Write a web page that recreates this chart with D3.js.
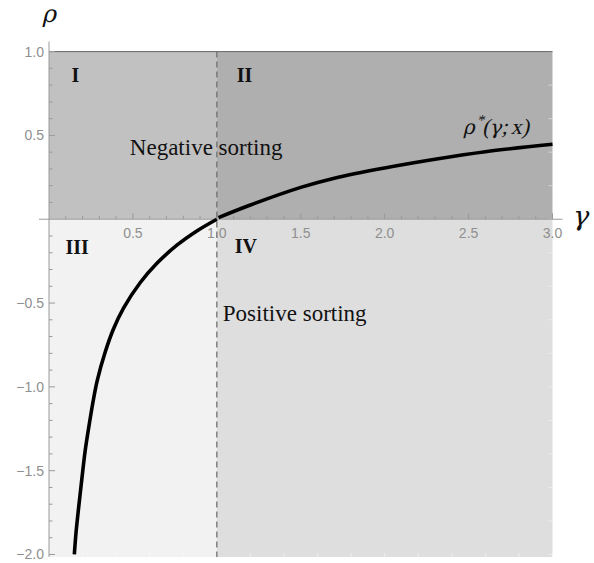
<!DOCTYPE html>
<html>
<head>
<meta charset="utf-8">
<script src="https://cdn.jsdelivr.net/npm/d3@7"></script>
<style>
  body { margin: 0; background: #fff; }
  svg { display: block; }
</style>
</head>
<body>
<script>
// values
const gammaTicks = [0.5, 1.0, 1.5, 2.0, 2.5, 3.0];
const rhoTicks = [1.0, 0.5, -0.5, -1.0, -1.5, -2.0];

const quadrantNames = ["I", "II", "III", "IV"];
const quadrantGamma = [[0, 1], [1, 3], [0, 1], [1, 3]];
const quadrantRho = [[0, 1], [0, 1], [-2.015, 0], [-2.015, 0]];

const sortingLabels = ["Negative sorting", "Positive sorting"];

// rho*(gamma; x), left branch (gamma < 1)
const lowerGamma = [0.151, 0.161, 0.175, 0.195, 0.215, 0.241, 0.264, 0.288, 0.334, 0.384, 0.444, 0.543, 0.643, 0.762, 0.881, 1.0];
const lowerRho = [-2.0, -1.87, -1.735, -1.556, -1.385, -1.216, -1.08, -0.96, -0.795, -0.655, -0.53, -0.379, -0.263, -0.155, -0.07, 0];

// right branch (gamma > 1)
const upperGamma = [1.01, 1.2, 1.5, 1.7, 2.0, 2.3, 2.6, 3.0];
const upperRho = [0.01, 0.085, 0.19, 0.245, 0.306, 0.358, 0.403, 0.447];

const width = 594, height = 563;

const svg = d3.select("body")
  .append("svg")
  .attr("width", width)
  .attr("height", height);

const x = d3.scaleLinear().domain([0, 3]).range([49, 552.5]);
const y = d3.scaleLinear().domain([-2.015, 1]).range([557, 51.6]);

const fills = {"I": "#c1c1c1", "II": "#afafaf", "III": "#f2f2f2", "IV": "#dedede"};

// shaded quadrants
svg.selectAll("rect.quad")
  .data(quadrantNames)
  .enter()
  .append("rect")
  .attr("class", "quad")
  .attr("x", (d, i) => x(quadrantGamma[i][0]))
  .attr("width", (d, i) => x(quadrantGamma[i][1]) - x(quadrantGamma[i][0]))
  .attr("y", (d, i) => y(quadrantRho[i][1]))
  .attr("height", (d, i) => y(quadrantRho[i][0]) - y(quadrantRho[i][1]))
  .attr("fill", d => fills[d]);

// faint frame ticks on right and bottom edges
const frameRho = d3.range(-2, 1.001, 0.2);
const frameGamma = d3.range(0.2, 3.001, 0.2);
svg.selectAll("line.fr")
  .data(frameRho)
  .enter()
  .append("line")
  .attr("x1", x(3)).attr("x2", x(3) - 4)
  .attr("y1", d => y(d)).attr("y2", d => y(d))
  .attr("stroke", "#fff").attr("stroke-opacity", 0.45);
svg.selectAll("line.fb")
  .data(frameGamma)
  .enter()
  .append("line")
  .attr("x1", d => x(d)).attr("x2", d => x(d))
  .attr("y1", y(-2.015)).attr("y2", y(-2.015) - 4)
  .attr("stroke", "#fff").attr("stroke-opacity", 0.45);

// top boundary
svg.append("line")
  .attr("x1", x(0)).attr("x2", x(3))
  .attr("y1", y(1)).attr("y2", y(1))
  .attr("stroke", "#666")
  .attr("stroke-width", 1);

const axisColor = "#9a9a9a";

// gamma axis at rho = 0
svg.append("line")
  .attr("x1", x(0) - 10).attr("x2", x(3) + 10)
  .attr("y1", y(0)).attr("y2", y(0))
  .attr("stroke", axisColor);

const gammaMinor = d3.range(0.1, 3.001, 0.1);
svg.selectAll("line.gt")
  .data(gammaMinor)
  .enter()
  .append("line")
  .attr("x1", d => x(d)).attr("x2", d => x(d))
  .attr("y1", y(0))
  .attr("y2", d => y(0) - (Math.abs(d * 2 - Math.round(d * 2)) < 1e-6 ? 6 : 3.5))
  .attr("stroke", axisColor);

// rho axis at gamma = 0
svg.append("line")
  .attr("x1", x(0)).attr("x2", x(0))
  .attr("y1", y(1) - 10).attr("y2", y(-2.015))
  .attr("stroke", axisColor);

const rhoMinor = d3.range(-2, 1.001, 0.1).filter(d => Math.abs(d) > 1e-6);
svg.selectAll("line.rt")
  .data(rhoMinor)
  .enter()
  .append("line")
  .attr("x1", x(0))
  .attr("x2", d => x(0) + (Math.abs(d * 2 - Math.round(d * 2)) < 1e-6 ? 6 : 3.5))
  .attr("y1", d => y(d)).attr("y2", d => y(d))
  .attr("stroke", axisColor);

const fmt = d3.format(".1f");
const tickFont = "'Liberation Sans', Arial, sans-serif";

svg.selectAll("text.gl")
  .data(gammaTicks)
  .enter()
  .append("text")
  .attr("x", d => x(d))
  .attr("y", y(0) + 19)
  .attr("text-anchor", "middle")
  .attr("font-family", tickFont)
  .attr("font-size", 14)
  .attr("fill", "#8f8f8f")
  .text(d => fmt(d));

svg.selectAll("text.rl")
  .data(rhoTicks)
  .enter()
  .append("text")
  .attr("x", x(0) - 5)
  .attr("y", d => y(d) + 5)
  .attr("text-anchor", "end")
  .attr("font-family", tickFont)
  .attr("font-size", 14)
  .attr("fill", "#8f8f8f")
  .text(d => fmt(d).replace("-", "\u2212"));

// dashed line at gamma = 1
svg.append("line")
  .attr("x1", x(1)).attr("x2", x(1))
  .attr("y1", y(1)).attr("y2", y(-2.015))
  .attr("stroke", "#707070")
  .attr("stroke-width", 1.3)
  .attr("stroke-dasharray", "6,4");

// curve
const line = d3.line()
  .x(d => x(d[0]))
  .y(d => y(d[1]))
  .curve(d3.curveCatmullRom.alpha(0.5));

[[lowerGamma, lowerRho], [upperGamma, upperRho]].forEach(([g, r]) => {
  svg.append("path")
    .datum(g.map((v, i) => [v, r[i]]))
    .attr("fill", "none")
    .attr("stroke", "#000")
    .attr("stroke-width", 3.6)
    .attr("d", line);
});

const serif = "'Liberation Serif', 'Times New Roman', serif";
const greek = "'DejaVu Serif', serif";

// quadrant numerals
const numeralPos = {
  "I": [x(0) + 22.5, y(1) + 30],
  "II": [x(1) + 20, y(1) + 30.5],
  "III": [x(0) + 16.5, y(0) + 35],
  "IV": [x(1) + 18, y(0) + 33.5]
};
svg.selectAll("text.num")
  .data(quadrantNames)
  .enter()
  .append("text")
  .attr("x", d => numeralPos[d][0])
  .attr("y", d => numeralPos[d][1])
  .attr("font-family", serif)
  .attr("font-weight", "bold")
  .attr("font-size", 20)
  .attr("fill", "#111")
  .text(d => d);

// sorting labels
svg.append("text")
  .attr("x", x(1) - 87)
  .attr("y", y(0) - 64)
  .attr("font-family", serif)
  .attr("font-size", 23)
  .attr("fill", "#111")
  .text(sortingLabels[0]);

svg.append("text")
  .attr("x", x(1) + 6)
  .attr("y", y(0) + 101.5)
  .attr("font-family", serif)
  .attr("font-size", 23)
  .attr("fill", "#111")
  .text(sortingLabels[1]);

// math-style text: upright serif slanted by hand
function mathText(px, py, size) {
  return svg.append("g")
    .attr("transform", `translate(${px},${py}) skewX(-13)`)
    .append("text")
    .attr("font-family", serif)
    .attr("font-size", size)
    .attr("fill", "#111");
}

// curve label rho*(gamma; x)
const cl = mathText(463, 134, 22);
cl.append("tspan").attr("font-family", greek).attr("font-size", 20).text("\u03C1");
cl.append("tspan").attr("dy", -9).attr("font-size", 15).text("*");
cl.append("tspan").attr("dy", 9).text("(");
cl.append("tspan").attr("font-family", greek).attr("font-size", 20).text("\u03B3");
cl.append("tspan").text(";");
cl.append("tspan").attr("dx", 3).text("x");
cl.append("tspan").text(")");

// axis titles
mathText(42, 22, 24).attr("font-family", greek).text("\u03C1");
mathText(572, 225, 27).attr("font-family", greek).text("\u03B3");
</script>
</body>
</html>
